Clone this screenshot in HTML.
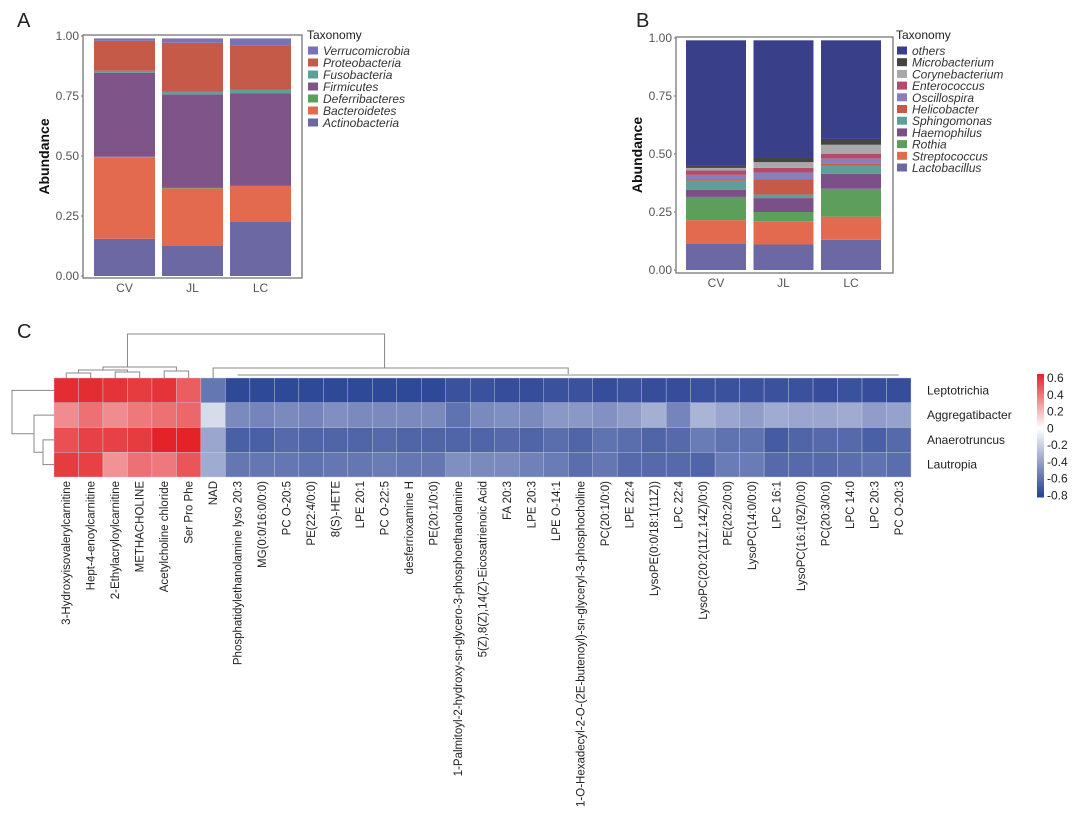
<!DOCTYPE html>
<html><head><meta charset="utf-8"><style>
html,body{margin:0;padding:0;background:#fff;}
svg{display:block;font-family:"Liberation Sans",Arial,sans-serif;}
</style></head><body>
<svg id="fig" width="1080" height="827" viewBox="0 0 1080 827" xmlns="http://www.w3.org/2000/svg">
<text x="17" y="27" font-size="20" fill="#222">A</text>
<text x="636" y="27" font-size="20" fill="#222">B</text>
<text x="17" y="338" font-size="20" fill="#222">C</text>
<g id="pa"></g>
<g id="pb"></g>
<g id="pc"></g>
</svg>
<script>
const NS="http://www.w3.org/2000/svg";
function mk(parent,tag,attrs,text){const e=document.createElementNS(NS,tag);for(const k in attrs)e.setAttribute(k,attrs[k]);if(text!==undefined)e.textContent=text;parent.appendChild(e);return e;}

// Panel A data (bottom to top)
const groupsA=["CV","JL","LC"];
const taxaA=["Actinobacteria","Bacteroidetes","Deferribacteres","Firmicutes","Fusobacteria","Proteobacteria","Verrucomicrobia"];
const colorsA=["#6b68a4","#e46a4f","#5c9e5a","#7f5589","#5e9f98","#c45a47","#7a72b4"];
const actinoA=[0.155,0.125,0.225];
const bactA=[0.34,0.24,0.15];
const deferA=[0.002,0.002,0.002];
const firmA=[0.35,0.39,0.385];
const fusoA=[0.008,0.01,0.015];
const proteoA=[0.125,0.205,0.185];
const verrA=[0.01,0.018,0.028];
const seriesA=[actinoA,bactA,deferA,firmA,fusoA,proteoA,verrA];
const ticksA=[0,0.25,0.5,0.75,1];
const tickLabelsA=["0.00","0.25","0.50","0.75","1.00"];

// Panel B data (bottom to top)
const groupsB=["CV","JL","LC"];
const taxaB=["Lactobacillus","Streptococcus","Rothia","Haemophilus","Sphingomonas","Helicobacter","Oscillospira","Enterococcus","Corynebacterium","Microbacterium","others"];
const colorsB=["#6b68a4","#e46a4f","#5e9e5c","#7b4f87","#5e9f98","#c45a47","#8a7fbd","#b14d6b","#a9a9a9","#444444","#3a3f8a"];
const lactoB=[0.115,0.11,0.13];
const streptoB=[0.10,0.10,0.10];
const rothiaB=[0.10,0.04,0.12];
const haemoB=[0.03,0.06,0.065];
const sphingoB=[0.04,0.015,0.035];
const helicoB=[0.005,0.065,0.01];
const oscilloB=[0.02,0.03,0.02];
const enteroB=[0.02,0.02,0.02];
const coryneB=[0.01,0.025,0.04];
const microB=[0.01,0.02,0.025];
const othersB=[0.54,0.505,0.425];
const seriesB=[lactoB,streptoB,rothiaB,haemoB,sphingoB,helicoB,oscilloB,enteroB,coryneB,microB,othersB];

function stacked(g,box,groups,series,colors,taxa,legX,legDy,prefix){
  const y=v=>box.y0-(box.y0-box.y1)*v;
  mk(g,"rect",{x:box.l,y:box.t,width:box.r-box.l,height:box.b-box.t,fill:"none",stroke:"#777","stroke-width":1.3,});
  ticksA.forEach((t,i)=>{
    const e=mk(g,"text",{x:box.l-4,y:y(t)+4,"font-size":12,fill:"#555","text-anchor":"end"},tickLabelsA[i]);
    
    
    mk(g,"line",{x1:box.l-2,x2:box.l,y1:y(t),y2:y(t),stroke:"#777"});
  });
  const yt=mk(g,"text",{x:0,y:0,"font-size":14,"font-weight":"bold",fill:"#111","text-anchor":"middle",transform:`translate(${box.l-34},${(box.t+box.b)/2}) rotate(-90)`},"Abundance");
  
  
  const bw=box.bw, step=box.step;
  groups.forEach((gr,j)=>{
    const x0=box.bx+j*step;
    let cum=0;
    series.forEach((s,k)=>{
      const r=mk(g,"rect",{x:x0,y:y(cum+s[j]),width:bw,height:y(cum)-y(cum+s[j]),fill:colors[k]});
      
      
      cum+=s[j];
    });
    const lb=mk(g,"text",{x:x0+bw/2,y:box.b+14,"font-size":12,fill:"#555","text-anchor":"middle"},gr);
    
    
  });
  const tt=mk(g,"text",{x:legX,y:39,"font-size":12,fill:"#222"},"Taxonomy");
  
  
  for(let i=taxa.length-1,n=0;i>=0;i--,n++){
    const yy=51+n*legDy;
    const sq=mk(g,"rect",{x:legX+1,y:yy-4.5,width:10,height:8,fill:colors[i]});
    
    
    const t=mk(g,"text",{x:legX+16,y:yy+4,"font-size":12,"font-style":"italic",fill:"#333"},taxa[i]);
    
    
  }
}
stacked(document.getElementById("pa"),{l:83,r:302,t:35,b:278,y0:276,y1:36,bx:94,bw:61,step:68},groupsA,seriesA,colorsA,taxaA,307,12,"panel-a");
stacked(document.getElementById("pb"),{l:676,r:893,t:37,b:273,y0:270,y1:38,bx:686,bw:60,step:67.5},groupsB,seriesB,colorsB,taxaB,896,11.7,"panel-b");

// Panel C heatmap
const metabolites=["3-Hydroxyisovalerylcarnitine","Hept-4-enoylcarnitine","2-Ethylacryloylcarnitine","METHACHOLINE","Acetylcholine chloride","Ser Pro Phe","NAD","Phosphatidylethanolamine lyso 20:3","MG(0:0/16:0/0:0)","PC O-20:5","PE(22:4/0:0)","8(S)-HETE","LPE 20:1","PC O-22:5","desferrioxamine H","PE(20:1/0:0)","1-Palmitoyl-2-hydroxy-sn-glycero-3-phosphoethanolamine","5(Z),8(Z),14(Z)-Eicosatrienoic Acid","FA 20:3","LPE 20:3","LPE O-14:1","1-O-Hexadecyl-2-O-(2E-butenoyl)-sn-glyceryl-3-phosphocholine","PC(20:1/0:0)","LPE 22:4","LysoPE(0:0/18:1(11Z))","LPC 22:4","LysoPC(20:2(11Z,14Z)/0:0)","PE(20:2/0:0)","LysoPC(14:0/0:0)","LPC 16:1","LysoPC(16:1(9Z)/0:0)","PC(20:3/0:0)","LPC 14:0","LPC 20:3","PC O-20:3"];
const bacteria=["Leptotrichia","Aggregatibacter","Anaerotruncus","Lautropia"];
const rowLepto=[0.62,0.62,0.6,0.58,0.6,0.48,-0.58,-0.78,-0.78,-0.78,-0.78,-0.78,-0.78,-0.78,-0.78,-0.78,-0.74,-0.74,-0.76,-0.76,-0.74,-0.74,-0.76,-0.74,-0.76,-0.76,-0.74,-0.74,-0.74,-0.74,-0.74,-0.76,-0.74,-0.76,-0.76];
const rowAggr=[0.34,0.42,0.34,0.4,0.42,0.45,-0.15,-0.5,-0.52,-0.5,-0.52,-0.48,-0.5,-0.5,-0.5,-0.5,-0.6,-0.5,-0.48,-0.5,-0.44,-0.44,-0.47,-0.42,-0.34,-0.52,-0.32,-0.38,-0.42,-0.36,-0.38,-0.38,-0.36,-0.42,-0.4];
const rowAnaer=[0.52,0.56,0.56,0.58,0.65,0.65,-0.38,-0.68,-0.68,-0.64,-0.66,-0.66,-0.66,-0.64,-0.66,-0.66,-0.66,-0.66,-0.64,-0.66,-0.62,-0.66,-0.6,-0.62,-0.66,-0.64,-0.56,-0.6,-0.6,-0.7,-0.66,-0.64,-0.64,-0.68,-0.64];
const rowLaut=[0.58,0.56,0.32,0.42,0.4,0.5,-0.36,-0.58,-0.58,-0.58,-0.6,-0.58,-0.58,-0.56,-0.58,-0.58,-0.48,-0.5,-0.5,-0.54,-0.56,-0.62,-0.58,-0.64,-0.64,-0.64,-0.66,-0.56,-0.56,-0.64,-0.64,-0.64,-0.62,-0.6,-0.62];
const rowsC=[rowLepto,rowAggr,rowAnaer,rowLaut];
const cbTicks=[0.6,0.4,0.2,0,-0.2,-0.4,-0.6,-0.8];

function col(v){
  const lerp=(a,b,t)=>Math.round(a+(b-a)*t);
  if(v>=0){const t=Math.min(v/0.65,1);return `rgb(${lerp(255,227,t)},${lerp(255,35,t)},${lerp(255,40,t)})`;}
  const t=Math.min(-v/0.8,1);return `rgb(${lerp(255,42,t)},${lerp(255,68,t)},${lerp(255,150,t)})`;
}
const pc=document.getElementById("pc");
const hx0=54,hx1=911,hy0=378,hy1=477;
const cw=(hx1-hx0)/metabolites.length, rh=(hy1-hy0)/bacteria.length;
rowsC.forEach((row,i)=>{
  row.forEach((v,j)=>{
    const r=mk(pc,"rect",{x:hx0+j*cw,y:hy0+i*rh,width:cw,height:rh,fill:col(v),stroke:"#c9cce0","stroke-width":0.4});
    
    
  });
  const t=mk(pc,"text",{x:927,y:hy0+i*rh+rh/2+4,"font-size":12,fill:"#222"},bacteria[i]);
  
  
});
metabolites.forEach((m,j)=>{
  const cx=hx0+j*cw+cw/2;
  const t=mk(pc,"text",{x:0,y:0,"font-size":11.5,fill:"#222","text-anchor":"end",transform:`translate(${cx+4},${hy1+4}) rotate(-90)`},m);
  
  
});
// dendrograms (structure lines)
const dg=mk(pc,"g",{stroke:"#888",fill:"none","stroke-width":1});


const cxp=j=>hx0+j*cw+cw/2;
function u(p,xa,ya,xb,yb,yt){mk(p,"path",{d:`M${xa},${ya}V${yt}H${xb}V${yb}`});}
u(dg,cxp(0),hy0,cxp(1),hy0,hy0-5);
u(dg,cxp(2),hy0,cxp(3),hy0,hy0-6);
u(dg,cxp(4),hy0,cxp(5),hy0,hy0-7);
u(dg,(cxp(0)+cxp(1))/2,hy0-5,(cxp(2)+cxp(3))/2,hy0-6,hy0-8);
u(dg,(cxp(0)+cxp(3))/2,hy0-8,(cxp(4)+cxp(5))/2,hy0-7,hy0-11);
u(dg,cxp(6),hy0,(cxp(7)+cxp(34))/2,hy0-4,hy0-10);
mk(dg,"path",{d:`M${cxp(7)},${hy0-3}H${cxp(34)}`});
u(dg,(cxp(0)+cxp(5))/2,hy0-11,(cxp(6)+cxp(20))/2,hy0-10,hy0-44);
const dl=mk(pc,"g",{stroke:"#888",fill:"none","stroke-width":1});


const ry=i=>hy0+i*rh+rh/2;
mk(dl,"path",{d:`M${hx0},${ry(2)}H43V${ry(3)}H${hx0}`});
mk(dl,"path",{d:`M${hx0},${ry(1)}H34V${(ry(2)+ry(3))/2}H43`});
mk(dl,"path",{d:`M${hx0},${ry(0)}H12V${(ry(1)+ry(2.5))/2}H34`});
// colorbar
const cb=mk(pc,"g",{});


const cbTop=374,cbBot=497,cbMax=0.65,cbMin=-0.82;
const cy=v=>cbTop+(cbMax-v)/(cbMax-cbMin)*(cbBot-cbTop);
for(let k=0;k<60;k++){
  const v1=cbMax-(cbMax-cbMin)*k/60, v2=cbMax-(cbMax-cbMin)*(k+1)/60;
  mk(cb,"rect",{x:1037,y:cy(v1),width:7,height:cy(v2)-cy(v1)+0.5,fill:col((v1+v2)/2)});
}
cbTicks.forEach(t=>{
  const e=mk(cb,"text",{x:1047,y:cy(t)+4,"font-size":12,fill:"#222"},String(t));
  
  
});
</script>
</body></html>
